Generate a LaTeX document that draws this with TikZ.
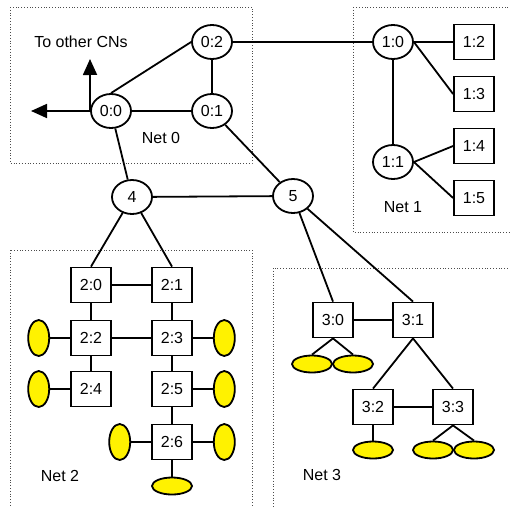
\documentclass[tikz,border=0pt]{standalone}
\usepackage{fontspec}
\setmainfont{Liberation Sans}
\usetikzlibrary{positioning,arrows.meta,shapes.geometric}
\tikzset{arista/.style={line width=1.8pt}}
\tikzset{marco/.style={draw=black!70,dotted,line width=0.8pt}}
\tikzset{cn/.style={draw,ellipse,line width=1.8pt,minimum width=40pt,minimum height=34pt,inner sep=0pt}}
\tikzset{sw/.style={draw,rectangle,line width=1.8pt,minimum width=40pt,minimum height=35pt,inner sep=0pt}}
\tikzset{hv/.style={draw,ellipse,fill=yellow,line width=1.8pt,minimum width=21pt,minimum height=36pt,inner sep=0pt}}
\tikzset{hh/.style={draw,ellipse,fill=yellow,line width=1.8pt,minimum width=40pt,minimum height=17pt,inner sep=0pt}}

\begin{document}
\begin{tikzpicture}[x=1pt,y=-1pt,font=\fontsize{16}{18}\selectfont]
    \useasboundingbox (0,0) rectangle (510,506);
    % redes
    \draw[marco] (10,7) rectangle (252,163);
    \draw[marco] (353,7) rectangle (515,232);
    \draw[marco] (10,250) rectangle (252,520);
    \draw[marco] (273,268) rectangle (515,520);
    \node (net0) at (161,138) {Net 0};
    \node (net1) at (403,207) {Net 1};
    \node (net2) at (60,476) {Net 2};
    \node (net3) at (322,475) {Net 3};
    \node (otros) at (81,42) {To other CNs};

    % red 0 y enlaces
    \node[cn] (00) at (111,111) {0:0};
    \node[cn] (01) at (212,111) {0:1};
    \node[cn] (02) at (212,42) {0:2};
    \node[cn] (4) at (132,197) {4};
    \node[cn] (5) at (293,196) {5};
    \coordinate (arriba) at (90,59);
    \coordinate (izq) at (31,111);

    % red 1
    \node[cn] (10) at (393,42) {1:0};
    \node[cn] (11) at (393,162) {1:1};
    \node[sw] (12) at (474,42) {1:2};
    \node[sw] (13) at (474,94) {1:3};
    \node[sw] (14) at (474,146) {1:4};
    \node[sw] (15) at (474,198) {1:5};

    % red 2
    \node[sw] (20) at (91,285) {2:0};
    \node[sw] (21) at (172,285) {2:1};
    \node[sw] (22) at (91,338) {2:2};
    \node[sw] (23) at (172,338) {2:3};
    \node[sw] (24) at (91,389) {2:4};
    \node[sw] (25) at (172,389) {2:5};
    \node[sw] (26) at (172,442) {2:6};
    \node[hv, left=20pt of 22] (h22) {};
    \node[hv, left=20pt of 24] (h24) {};
    \node[hv, right=20pt of 23] (h23) {};
    \node[hv, right=20pt of 25] (h25) {};
    \node[hv, right=20pt of 26] (h26a) {};
    \node[hv, left=20pt of 26] (h26b) {};
    \node[hh] (h26c) at (172,486) {};

    % red 3
    \node[sw] (30) at (333,320) {3:0};
    \node[sw] (31) at (413,320) {3:1};
    \node[sw] (32) at (373,407) {3:2};
    \node[sw] (33) at (453,407) {3:3};
    \node[hh] (h30a) at (312,364) {};
    \node[hh] (h30b) at (353,364) {};
    \node[hh] (h32) at (373,450) {};
    \node[hh] (h33a) at (433,450) {};
    \node[hh] (h33b) at (474,450) {};

    \draw[arista,-{Triangle[length=16pt,width=14pt]}] (00.west) -- (izq);
    \draw[arista,-{Triangle[length=16pt,width=14pt]}] (00.west) -- (arriba);
    \draw[arista] (00) -- (01);
    \draw[arista] (01) -- (02);
    \draw[arista] (00.north) -- (02.west);
    \draw[arista] (02) -- (10);
    \draw[arista] (00) -- (4);
    \draw[arista] (01) -- (5);
    \draw[arista] (4) -- (5);

    \draw[arista] (10) -- (11);
    \draw[arista] (10) -- (12);
    \draw[arista] (10.east) -- (13.west);
    \draw[arista] (11.east) -- (14.west);
    \draw[arista] (11.east) -- (15.west);

    \draw[arista] (4) -- (20.north);
    \draw[arista] (4) -- (21.north);
    \draw[arista] (20) -- (21);
    \draw[arista] (20) -- (22);
    \draw[arista] (21) -- (23);
    \draw[arista] (22) -- (23);
    \draw[arista] (22) -- (24);
    \draw[arista] (23) -- (25);
    \draw[arista] (25) -- (26);
    \draw[arista] (22) -- (h22);
    \draw[arista] (24) -- (h24);
    \draw[arista] (23) -- (h23);
    \draw[arista] (25) -- (h25);
    \draw[arista] (26) -- (h26a);
    \draw[arista] (26) -- (h26b);
    \draw[arista] (26) -- (h26c);

    \draw[arista] (5) -- (30.north);
    \draw[arista] (5) -- (31.north);
    \draw[arista] (30) -- (31);
    \draw[arista] (31.south) -- (32.north);
    \draw[arista] (31.south) -- (33.north);
    \draw[arista] (32) -- (33);
    \draw[arista] (30.south) -- (h30a.north);
    \draw[arista] (30.south) -- (h30b.north);
    \draw[arista] (32) -- (h32);
    \draw[arista] (33.south) -- (h33a.north);
    \draw[arista] (33.south) -- (h33b.north);
\end{tikzpicture}
\end{document}
